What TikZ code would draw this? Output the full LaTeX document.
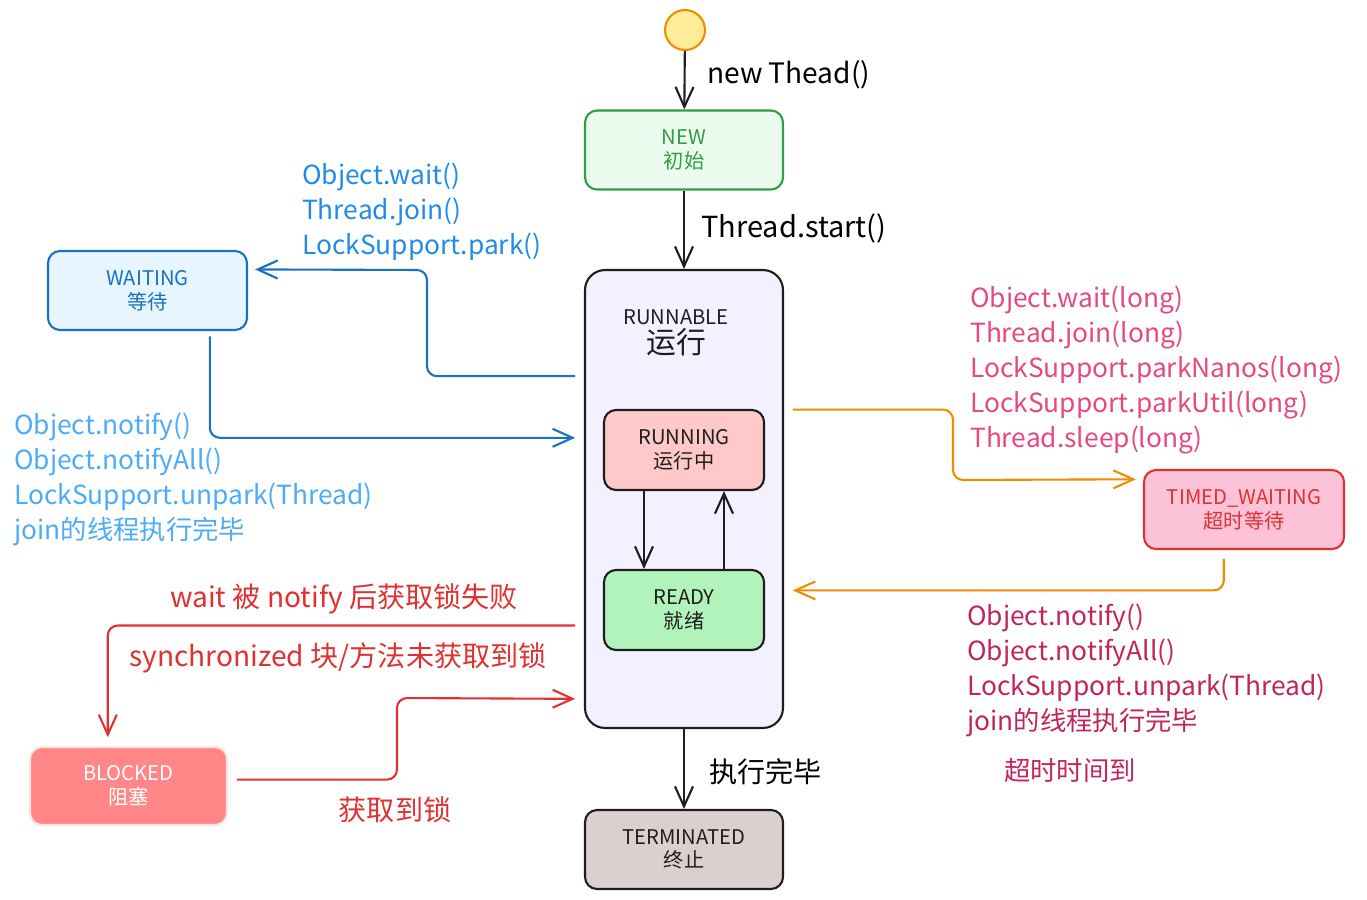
\documentclass[tikz,border=0pt]{standalone}
\usepackage{fontspec}
\setmainfont{Noto Sans CJK SC}
\usetikzlibrary{arrows.meta,calc}
\definecolor{inkblack}{HTML}{1E1E1E}
\definecolor{startfill}{HTML}{FFEC99}
\definecolor{startdraw}{HTML}{F08C00}
\definecolor{newfill}{HTML}{EBFBEE}
\definecolor{newdraw}{HTML}{2F9E44}
\definecolor{runfill}{HTML}{F3F0FF}
\definecolor{runningfill}{HTML}{FFC9C9}
\definecolor{readyfill}{HTML}{B2F2BB}
\definecolor{waitfill}{HTML}{E7F5FF}
\definecolor{waitdraw}{HTML}{1971C2}
\definecolor{waittext}{HTML}{228BE6}
\definecolor{notifytext}{HTML}{4DABF7}
\definecolor{timedfill}{HTML}{FCC2D7}
\definecolor{timeddraw}{HTML}{E03131}
\definecolor{timedtext}{HTML}{E64980}
\definecolor{backtext}{HTML}{C2255C}
\definecolor{orangeline}{HTML}{F08C00}
\definecolor{blockfill}{HTML}{FF8787}
\definecolor{blockdraw}{HTML}{FFE3E3}
\definecolor{termfill}{HTML}{DBCFCF}
\begin{document}
\begin{tikzpicture}[x=0.02cm,y=-0.02cm,
    state/.style={draw=inkblack, text=inkblack, rounded corners=0.24cm, line width=1.2pt,
      minimum width=3.96cm, minimum height=1.58cm, align=center,
      font=\fontsize{11.5}{13.5}\selectfont},
    arr/.style={line width=1.2pt, draw=inkblack, rounded corners=0.2cm,
      -{Straight Barb[length=4mm,width=3.6mm]}},
    lbl/.style={anchor=west, align=left, font=\fontsize{15}{19.8}\selectfont}]
  \useasboundingbox (0,0) rectangle (1367,900);
  % Start
  \node[circle, draw=startdraw, fill=startfill, line width=1.2pt, minimum size=0.8cm] (start) at (685,30) {};
  % Main column
  \node[state, draw=newdraw, fill=newfill, text=newdraw] (new) at (684,150) {NEW\\初始};
  \node[state, fill=runfill, minimum height=9.16cm, rounded corners=0.4cm] (runnable) at (684,499) {};
  \node[align=center, text=inkblack] (runtitle) at (676,333)
    {\fontsize{11.5}{13}\selectfont RUNNABLE\\[1pt]{\fontsize{17}{18}\selectfont 运行}};
  \node[state, fill=runningfill, minimum width=3.2cm, minimum height=1.6cm] (running) at (684,450) {RUNNING\\运行中};
  \node[state, fill=readyfill, minimum width=3.2cm, minimum height=1.6cm] (ready) at (684,610) {READY\\就绪};
  \node[state, fill=termfill] (terminated) at (684,849.5) {TERMINATED\\终止};
  % Side states
  \node[state, draw=waitdraw, fill=waitfill, text=waitdraw, minimum width=3.98cm] (waiting) at (147.5,290.5) {WAITING\\等待};
  \node[state, draw=timeddraw, fill=timedfill, text=timeddraw, minimum width=4cm] (timed) at (1244,509.5) {TIMED\_WAITING\\超时等待};
  \node[state, draw=blockdraw, fill=blockfill, text=white, minimum width=3.94cm, minimum height=1.56cm] (blocked) at (128.5,786) {BLOCKED\\阻塞};
  % Black arrows
  \draw[arr] (start) -- (new);
  \node[lbl, font=\fontsize{16}{19.8}\selectfont] (newlbl) at (701,75) {new Thead()};
  \draw[arr] (new) -- (runnable);
  \node[lbl, font=\fontsize{16.5}{19.8}\selectfont] (startlbl) at (695,228) {Thread.start()};
  \draw[arr] (runnable) -- (terminated);
  \node[lbl, font=\fontsize{16}{19.8}\selectfont] (endlbl) at (703,772) {执行完毕};
  \draw[arr] ([xshift=-0.8cm]running.south) -- ([xshift=-0.8cm]ready.north);
  \draw[arr] ([xshift=0.8cm]ready.north) -- ([xshift=0.8cm]running.south);
  % Waiting arrows
  \draw[arr, draw=waitdraw, shorten <=5pt, shorten >=4pt]
    ($(runnable.north west)!0.233!(runnable.south west)$) -| (427,270)
    -- ($(waiting.north east)!0.24!(waiting.south east)$);
  \node[lbl, text=waittext] (waitlbl) at (296,212) {Object.wait()\\Thread.join()\\LockSupport.park()};
  \draw[arr, draw=waitdraw, shorten <=3pt, shorten >=5pt]
    ($(waiting.south west)!0.81!(waiting.south east)$) |- ($(runnable.north west)!0.367!(runnable.south west)$);
  \node[lbl, text=notifytext] (notifylbl) at (8,479.5) {Object.notify()\\Object.notifyAll()\\LockSupport.unpark(Thread)\\join的线程执行完毕};
  % Timed waiting arrows
  \draw[arr, draw=orangeline, shorten <=5pt, shorten >=4pt]
    ($(runnable.north east)!0.3057!(runnable.south east)$) -| (953,480)
    -- ($(timed.north west)!0.127!(timed.south west)$);
  \node[lbl, text=timedtext] (timedlbl) at (964,370) {Object.wait(long)\\Thread.join(long)\\LockSupport.parkNanos(long)\\LockSupport.parkUtil(long)\\Thread.sleep(long)};
  \draw[arr, draw=orangeline, shorten <=5pt, shorten >=5pt]
    ($(timed.south west)!0.4!(timed.south east)$) |- ($(runnable.north east)!0.6987!(runnable.south east)$);
  \node[lbl, text=backtext] (backlbl) at (961,670.5) {Object.notify()\\Object.notifyAll()\\LockSupport.unpark(Thread)\\join的线程执行完毕};
  \node[lbl, text=backtext] (timeoutlbl) at (998,770) {超时时间到};
  % Blocked arrows
  \draw[arr, draw=timeddraw, shorten <=5pt, shorten >=5pt]
    ($(runnable.north west)!0.775!(runnable.south west)$) -| ($(blocked.north west)!0.396!(blocked.north east)$);
  \node[lbl, text=timeddraw, anchor=center, font=\fontsize{16}{19.8}\selectfont] (faillbl) at (344,599) {wait 被 notify 后获取锁失败};
  \node[lbl, text=timeddraw, anchor=center, font=\fontsize{16}{19.8}\selectfont] (synclbl) at (338,658) {synchronized 块/方法未获取到锁};
  \draw[arr, draw=timeddraw, shorten <=5pt, shorten >=5pt]
    ($(blocked.north east)!0.42!(blocked.south east)$) -| (397,698)
    -- ($(runnable.north west)!0.9345!(runnable.south west)$);
  \node[lbl, text=timeddraw, anchor=center, font=\fontsize{16}{19.8}\selectfont] (locklbl) at (395,810) {获取到锁};
\end{tikzpicture}
\end{document}
